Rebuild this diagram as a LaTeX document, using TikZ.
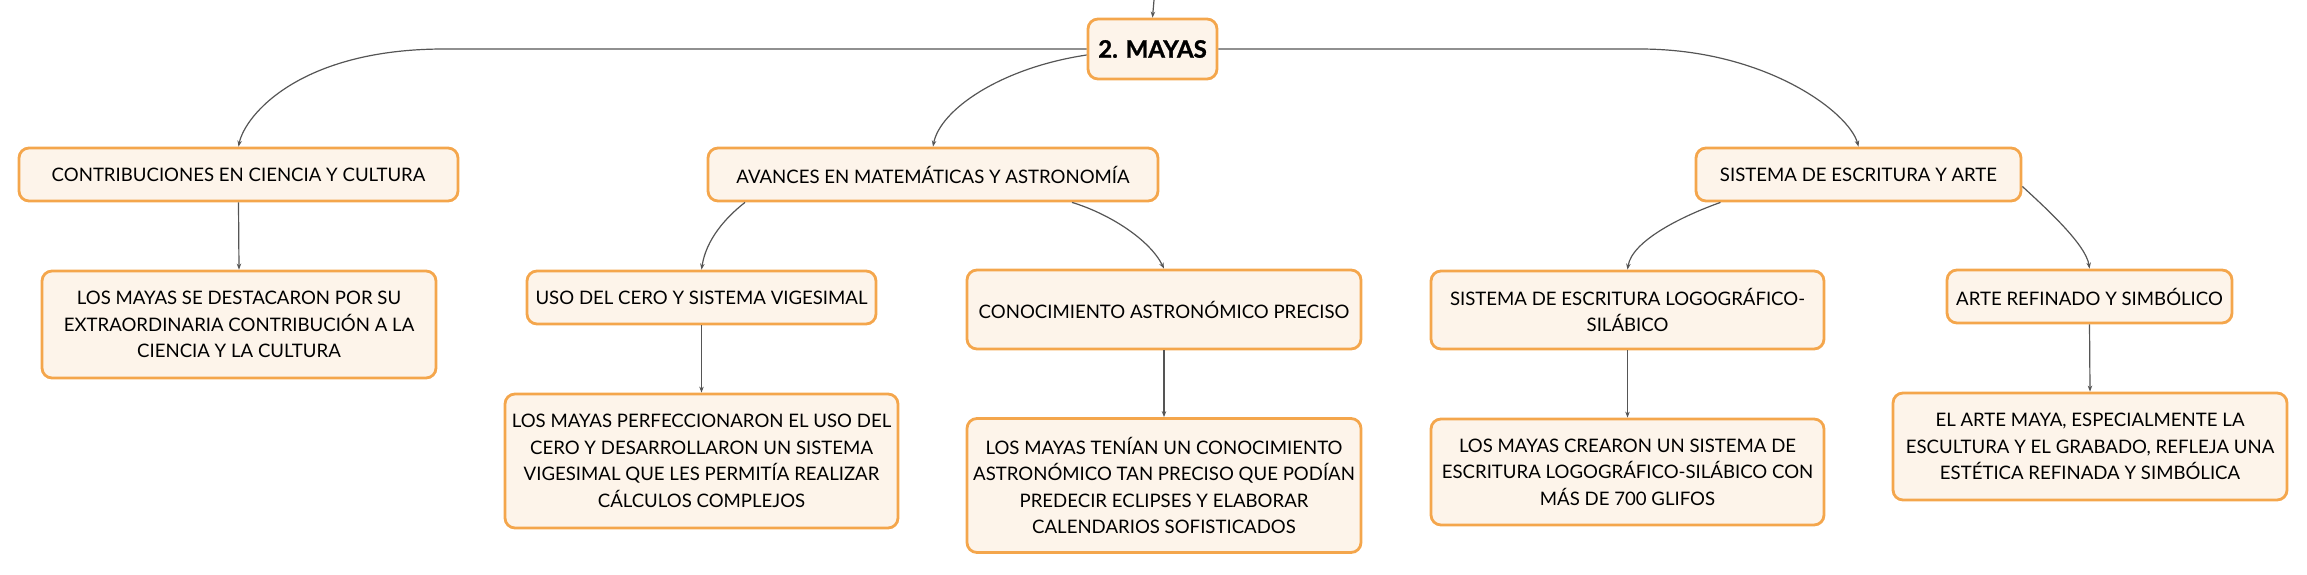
\documentclass[tikz,border=0pt]{standalone}
\usepackage{fontspec}
\setmainfont{Lato}
\usetikzlibrary{arrows.meta}
\definecolor{boxfill}{HTML}{FDF4EA}
\definecolor{boxline}{HTML}{F4A64C}
\definecolor{linkc}{HTML}{555555}
\tikzset{
  mbox/.style={draw=boxline, fill=boxfill, line width=2.8pt, rounded corners=10pt,
    inner sep=0pt, align=center, font=\fontsize{18.6}{26.5}\selectfont, text=black},
  rootbox/.style={mbox, font=\fontsize{24}{28}\selectfont\bfseries\addfontfeature{FakeBold=1.2}},
  link/.style={draw=linkc, line width=1.2pt, -{Stealth[length=6pt,width=4.5pt]}},
}
\begin{document}
\begin{tikzpicture}[x=1pt,y=-1pt]
\useasboundingbox (0,0) rectangle (2307,574);
% nodes
\node[rootbox, minimum width=129pt, minimum height=60pt] (root) at (1152.5,49) {2. MAYAS};
\node[mbox, minimum width=439pt, minimum height=53pt] (c1) at (238.5,174.5) {CONTRIBUCIONES EN CIENCIA Y CULTURA};
\node[mbox, minimum width=450pt, minimum height=53pt] (c2) at (933,174.5) {AVANCES EN MATEMÁTICAS Y ASTRONOMÍA};
\node[mbox, minimum width=325pt, minimum height=53pt] (c3) at (1858.5,174.5) {SISTEMA DE ESCRITURA Y ARTE};
\node[mbox, minimum width=394pt, minimum height=107pt] (d1) at (239,324.5) {LOS MAYAS SE DESTACARON POR SU\\EXTRAORDINARIA CONTRIBUCIÓN A LA\\CIENCIA Y LA CULTURA};
\node[mbox, minimum width=349pt, minimum height=53pt] (u) at (701.5,297.5) {USO DEL CERO Y SISTEMA VIGESIMAL};
\node[mbox, minimum width=394pt, minimum height=79pt] (k) at (1164,309.5) {CONOCIMIENTO ASTRONÓMICO PRECISO};
\node[mbox, minimum width=393pt, minimum height=134pt] (p) at (701.5,461) {LOS MAYAS PERFECCIONARON EL USO DEL\\CERO Y DESARROLLARON UN SISTEMA\\VIGESIMAL QUE LES PERMITÍA REALIZAR\\CÁLCULOS COMPLEJOS};
\node[mbox, minimum width=394pt, minimum height=134pt] (t) at (1164,485.5) {LOS MAYAS TENÍAN UN CONOCIMIENTO\\ASTRONÓMICO TAN PRECISO QUE PODÍAN\\PREDECIR ECLIPSES Y ELABORAR\\CALENDARIOS SOFISTICADOS};
\node[mbox, minimum width=393pt, minimum height=78pt] (l) at (1627.5,310) {SISTEMA DE ESCRITURA LOGOGRÁFICO-\\SILÁBICO};
\node[mbox, minimum width=285pt, minimum height=53pt] (a) at (2089.5,296.5) {ARTE REFINADO Y SIMBÓLICO};
\node[mbox, minimum width=393pt, minimum height=106pt] (cr) at (1627.5,472) {LOS MAYAS CREARON UN SISTEMA DE\\ESCRITURA LOGOGRÁFICO-SILÁBICO CON\\MÁS DE 700 GLIFOS};
\node[mbox, minimum width=394pt, minimum height=107pt] (e) at (2090,446.5) {EL ARTE MAYA, ESPECIALMENTE LA\\ESCULTURA Y EL GRABADO, REFLEJA UNA\\ESTÉTICA REFINADA Y SIMBÓLICA};
% helper coordinates
\coordinate (top) at (1154,0);
\coordinate (lbend) at (444,49);
\coordinate (rbend) at (1640,49);
% connectors
\draw[link] (top) -- (root.north);
\draw[link] (root.west) -- (lbend) .. controls (300,49) and (245,115) .. (c1.north);
\draw[link] (root.east) -- (rbend) .. controls (1765,49) and (1849,112) .. (c3.north);
\draw[link] ([yshift=-6pt]root.west) .. controls (1000,68) and (940,110) .. (c2.north);
\draw[link] ([xshift=-188pt]c2.south) .. controls (725,218) and (706,240) .. (u.north);
\draw[link] ([xshift=139pt]c2.south) .. controls (1110,214) and (1150,240) .. (k.north);
\draw[link] ([xshift=-138pt]c3.south) .. controls (1685,215) and (1632,240) .. (l.north);
\draw[link] ([yshift=-12pt]c3.east) .. controls (2048,210) and (2086,245) .. (a.north);
\draw[link] (c1.south) -- (d1.north);
\draw[link] (u.south) -- (p.north);
\draw[link] (k.south) -- (t.north);
\draw[link] (l.south) -- (cr.north);
\draw[link] (a.south) -- (e.north);
\end{tikzpicture}
\end{document}
